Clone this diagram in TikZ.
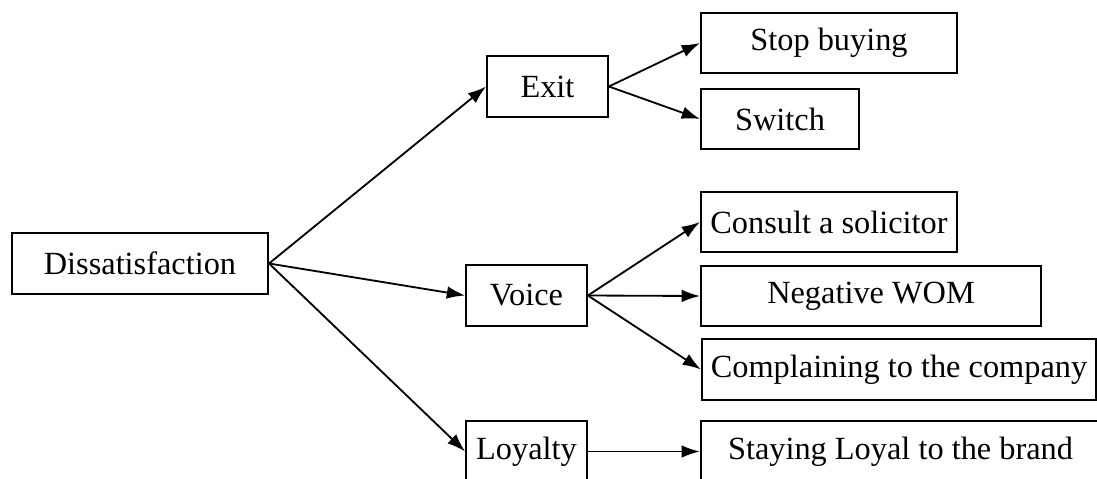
\documentclass[tikz,border=0pt]{standalone}
\usepackage{fontspec}
\setmainfont{Liberation Serif}
\usetikzlibrary{arrows.meta}

\begin{document}
\begin{tikzpicture}
    [
        x={(0.025cm,0)}, y={(0,-0.025cm)},
        box/.style={draw, line width=1.4pt, minimum height=1.52cm,
            inner sep=0pt, font=\fontsize{23}{27}\selectfont},
        arr/.style={line width=1.3pt, -{Latex[length=13pt,width=9pt]}}
    ]
    \clip (0,0) rectangle (1097,479);
    % first level
    \node[box, minimum width=6.4cm] (dis) at (140,263.5) {Dissatisfaction};
    \node[box, minimum width=3.02cm] (exit) at (547.5,86.5) {Exit};
    \node[box, minimum width=3.02cm] (voice) at (526.5,295.5) {Voice};
    \node[box, minimum width=3.02cm] (loyalty) at (526.5,451.5) {Loyalty};
    % second level
    \node[box, minimum width=6.4cm] (stop) at (829,43) {Stop buying};
    \node[box, minimum width=3.95cm] (switch) at (780,119) {Switch};
    \node[box, minimum width=6.4cm] (consult) at (829,222) {Consult a solicitor};
    \node[box, minimum width=8.5cm] (negwom) at (871,296) {Negative WOM};
    \node[box, minimum width=9.85cm] (complain) at (899,369.5) {Complaining to the company};
    \node[box, minimum width=9.98cm] (staying) at (900.5,451.5) {Staying Loyal to the brand};

    \draw[arr] (dis.east) -- (exit.west);
    \draw[arr] (dis.east) -- (voice.west);
    \draw[arr] (dis.east) -- (loyalty.west);
    \draw[arr] (exit.east) -- (stop.west);
    \draw[arr] (exit.east) -- (switch.west);
    \draw[arr] (voice.east) -- (consult.west);
    \draw[arr] (voice.east) -- (negwom.west);
    \draw[arr] (voice.east) -- (complain.west);
    \draw[arr] (loyalty.east) -- (staying.west);
\end{tikzpicture}
\end{document}
